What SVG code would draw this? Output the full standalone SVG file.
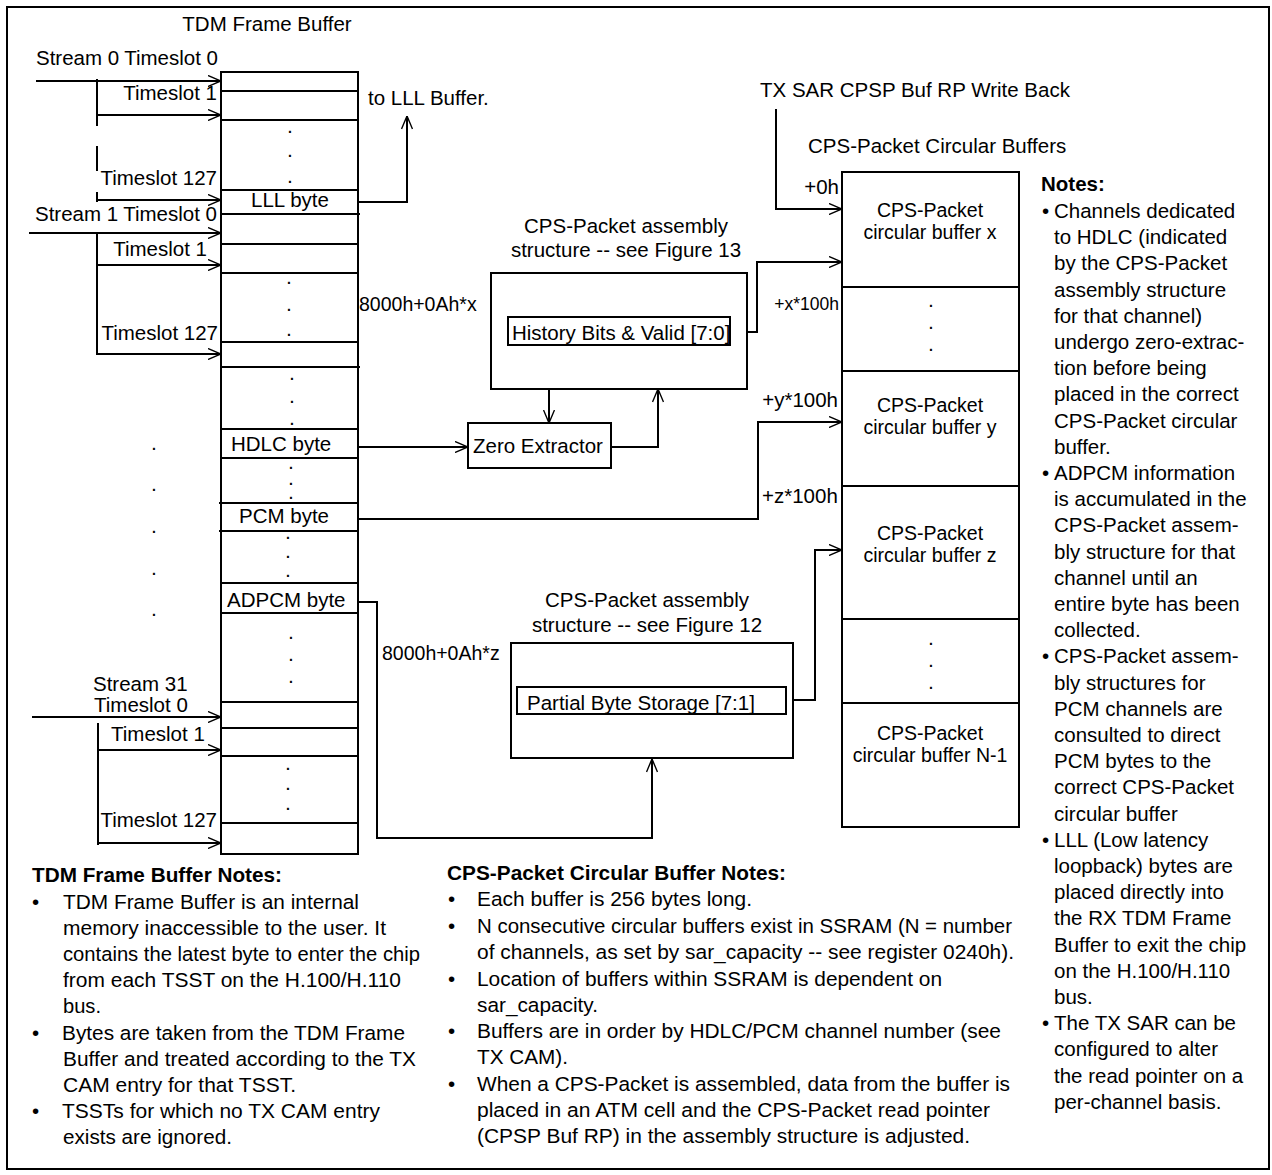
<svg xmlns="http://www.w3.org/2000/svg" width="1272" height="1175" viewBox="0 0 1272 1175">
<style>
.ln{stroke:#000;stroke-width:2;fill:none}
.ar{stroke:#000;stroke-width:2;fill:none;marker-end:url(#ah)}
text{font-family:"Liberation Sans",Arial,sans-serif;font-size:20.5px;fill:#000}
.m{text-anchor:middle}
.e{text-anchor:end}
.b{font-weight:bold}
.s{font-size:17.5px}
.c{font-size:19.5px;text-anchor:middle}
.d{font-size:14px;font-weight:bold;text-anchor:middle}
</style>
<defs>
<marker id="ah" viewBox="0 0 14 12" refX="13.5" refY="6" markerWidth="14" markerHeight="12" markerUnits="userSpaceOnUse" orient="auto">
<path d="M0.5,0.5 L13.5,6 L0.5,11.5" fill="none" stroke="#000" stroke-width="1.4"/>
</marker>
</defs>
<rect x="0" y="0" width="1272" height="1175" fill="#fff"/>
<rect class="ln" x="7" y="7" width="1262" height="1162"/>

<g id="tdm-buffer">
<text class="m" x="267" y="31">TDM Frame Buffer</text>
<rect class="ln" x="221" y="72" width="137" height="782"/>
<path class="ln" d="M221,91H358M221,120H358M221,190H358M221,214H360M221,244H358M221,273H358M221,342H358M221,367H360M221,429H358M221,458H358M219,503H358M219,531H358M221,583H358M221,613H358M221,702H358M221,728H358M221,756H358M221,823H358"/>
<text x="36" y="65">Stream 0</text>
<text class="e" x="218" y="65">Timeslot 0</text>
<text class="e" x="217" y="100">Timeslot 1</text>
<text class="e" x="217" y="185">Timeslot 127</text>
<text class="m" x="290" y="207">LLL byte</text>
<text x="35" y="221">Stream 1</text>
<text class="e" x="217" y="221">Timeslot 0</text>
<text class="e" x="207" y="256">Timeslot 1</text>
<text class="e" x="218" y="340">Timeslot 127</text>
<text x="231" y="451">HDLC byte</text>
<text x="239" y="523">PCM byte</text>
<text x="227" y="607">ADPCM byte</text>
<text x="93" y="691">Stream 31</text>
<text x="94" y="712">Timeslot 0</text>
<text x="111" y="741">Timeslot 1</text>
<text class="e" x="217" y="827">Timeslot 127</text>
<text class="d" x="290" y="133">.</text><text class="d" x="290" y="157">.</text><text class="d" x="290" y="183">.</text>
<text class="d" x="289" y="284">.</text><text class="d" x="289" y="311">.</text><text class="d" x="289" y="336">.</text>
<text class="d" x="292" y="380">.</text><text class="d" x="292" y="403">.</text><text class="d" x="292" y="425">.</text>
<text class="d" x="291" y="469">.</text><text class="d" x="291" y="485">.</text><text class="d" x="291" y="499">.</text>
<text class="d" x="288" y="539">.</text><text class="d" x="288" y="558">.</text><text class="d" x="288" y="577">.</text>
<text class="d" x="291" y="639">.</text><text class="d" x="291" y="661">.</text><text class="d" x="291" y="683">.</text>
<text class="d" x="288" y="770">.</text><text class="d" x="288" y="790">.</text><text class="d" x="288" y="810">.</text>
<text class="d" x="154" y="450">.</text><text class="d" x="154" y="491">.</text><text class="d" x="154" y="533">.</text><text class="d" x="154" y="575">.</text><text class="d" x="154" y="616">.</text>
</g>

<g id="history-struct">
<text class="m" x="626" y="233">CPS-Packet assembly</text>
<text class="m" x="626" y="257">structure -- see Figure 13</text>
<rect class="ln" x="491" y="273" width="256" height="116"/>
<rect class="ln" x="508" y="317" width="222" height="28"/>
<text x="512" y="340">History Bits &amp; Valid [7:0]</text>
<text x="359" y="311" style="font-size:19.5px">8000h+0Ah*x</text>
</g>

<g id="zero-extractor">
<rect class="ln" x="468" y="423" width="143" height="45"/>
<text x="473" y="453">Zero Extractor</text>
</g>

<g id="partial-struct">
<text class="m" x="647" y="607">CPS-Packet assembly</text>
<text class="m" x="647" y="632">structure -- see Figure 12</text>
<rect class="ln" x="511" y="643" width="282" height="115"/>
<rect class="ln" x="517" y="687" width="269" height="27"/>
<text x="527" y="710">Partial Byte Storage [7:1]</text>
<text x="382" y="660" style="font-size:19.5px">8000h+0Ah*z</text>
</g>

<g id="cps-buffers">
<text x="808" y="153">CPS-Packet Circular Buffers</text>
<rect class="ln" x="842" y="172" width="177" height="655"/>
<path class="ln" d="M842,287H1019M842,371H1019M842,486H1019M842,619H1019M842,703H1019"/>
<text class="c" x="930" y="216.5">CPS-Packet</text><text class="c" x="930" y="238.5">circular buffer x</text>
<text class="c" x="930" y="411.5">CPS-Packet</text><text class="c" x="930" y="433.5">circular buffer y</text>
<text class="c" x="930" y="540">CPS-Packet</text><text class="c" x="930" y="562">circular buffer z</text>
<text class="c" x="930" y="740">CPS-Packet</text><text class="c" x="930" y="762">circular buffer N-1</text>
<text class="d" x="931" y="307">.</text><text class="d" x="931" y="329">.</text><text class="d" x="931" y="351">.</text>
<text class="d" x="931" y="645">.</text><text class="d" x="931" y="667">.</text><text class="d" x="931" y="689">.</text>
<text class="e" x="839" y="194">+0h</text>
<text class="e s" x="839" y="310">+x*100h</text>
<text class="e" x="838" y="407">+y*100h</text>
<text x="762" y="503">+z*100h</text>
</g>

<g id="connectors">
<path class="ar" d="M36,81H221"/>
<path class="ln" d="M97,79V126M97,146V171M97,192V202"/>
<path class="ar" d="M97,115H221"/>
<path class="ar" d="M97,200H221"/>
<path class="ar" d="M29,233H221"/>
<path class="ln" d="M97,233V355"/>
<path class="ar" d="M97,265H221"/>
<path class="ar" d="M97,354H221"/>
<path class="ar" d="M32,717H221"/>
<path class="ln" d="M98,723V845"/>
<path class="ar" d="M98,750H221"/>
<path class="ar" d="M98,843H221"/>
<path class="ar" d="M358,202H407V116"/>
<text x="368" y="105">to LLL Buffer.</text>
<path class="ar" d="M358,447H468"/>
<path class="ar" d="M611,447H658V389"/>
<path class="ar" d="M549,389V423"/>
<path class="ar" d="M747,332H757V262H842"/>
<path class="ar" d="M358,519H758V422H842"/>
<path class="ar" d="M358,602H377V838H652V759"/>
<path class="ar" d="M793,700H815V550H842"/>
<path class="ar" d="M776,109V209H842"/>
<text x="760" y="97">TX SAR CPSP Buf RP Write Back</text>
</g>

<g id="notes-right">
<text class="b" x="1041" y="191">Notes:</text>
<text x="1042" y="218">•</text><text x="1054" y="218">Channels dedicated</text>
<text x="1054" y="244.2">to HDLC (indicated</text>
<text x="1054" y="270.4">by the CPS-Packet</text>
<text x="1054" y="296.6">assembly structure</text>
<text x="1054" y="322.8">for that channel)</text>
<text x="1054" y="349">undergo zero-extrac-</text>
<text x="1054" y="375.2">tion before being</text>
<text x="1054" y="401.4">placed in the correct</text>
<text x="1054" y="427.6">CPS-Packet circular</text>
<text x="1054" y="453.8">buffer.</text>
<text x="1042" y="480">•</text><text x="1054" y="480">ADPCM information</text>
<text x="1054" y="506.2">is accumulated in the</text>
<text x="1054" y="532.4">CPS-Packet assem-</text>
<text x="1054" y="558.6">bly structure for that</text>
<text x="1054" y="584.8">channel until an</text>
<text x="1054" y="611">entire byte has been</text>
<text x="1054" y="637.2">collected.</text>
<text x="1042" y="663.4">•</text><text x="1054" y="663.4">CPS-Packet assem-</text>
<text x="1054" y="689.6">bly structures for</text>
<text x="1054" y="715.8">PCM channels are</text>
<text x="1054" y="742">consulted to direct</text>
<text x="1054" y="768.2">PCM bytes to the</text>
<text x="1054" y="794.4">correct CPS-Packet</text>
<text x="1054" y="820.6">circular buffer</text>
<text x="1042" y="846.8">•</text><text x="1054" y="846.8">LLL (Low latency</text>
<text x="1054" y="873">loopback) bytes are</text>
<text x="1054" y="899.2">placed directly into</text>
<text x="1054" y="925.4">the RX TDM Frame</text>
<text x="1054" y="951.6">Buffer to exit the chip</text>
<text x="1054" y="977.8">on the H.100/H.110</text>
<text x="1054" y="1004">bus.</text>
<text x="1042" y="1030.2">•</text><text x="1054" y="1030.2">The TX SAR can be</text>
<text x="1054" y="1056.4">configured to alter</text>
<text x="1054" y="1082.6">the read pointer on a</text>
<text x="1054" y="1108.8">per-channel basis.</text>
</g>

<g id="notes-tdm">
<text class="b" x="32" y="882" textLength="250" lengthAdjust="spacingAndGlyphs">TDM Frame Buffer Notes:</text>
<text x="32" y="909">•</text><text x="63" y="909" textLength="296" lengthAdjust="spacingAndGlyphs">TDM Frame Buffer is an internal</text>
<text x="63" y="935" textLength="323" lengthAdjust="spacingAndGlyphs">memory inaccessible to the user. It</text>
<text x="63" y="961" textLength="357" lengthAdjust="spacingAndGlyphs">contains the latest byte to enter the chip</text>
<text x="63" y="987" textLength="338" lengthAdjust="spacingAndGlyphs">from each TSST on the H.100/H.110</text>
<text x="63" y="1013" textLength="38" lengthAdjust="spacingAndGlyphs">bus.</text>
<text x="32" y="1040">•</text><text x="62" y="1040" textLength="343" lengthAdjust="spacingAndGlyphs">Bytes are taken from the TDM Frame</text>
<text x="63" y="1066" textLength="353" lengthAdjust="spacingAndGlyphs">Buffer and treated according to the TX</text>
<text x="63" y="1092" textLength="233" lengthAdjust="spacingAndGlyphs">CAM entry for that TSST.</text>
<text x="32" y="1118">•</text><text x="62" y="1118" textLength="318" lengthAdjust="spacingAndGlyphs">TSSTs for which no TX CAM entry</text>
<text x="63" y="1144" textLength="169" lengthAdjust="spacingAndGlyphs">exists are ignored.</text>
</g>

<g id="notes-cps">
<text class="b" x="447" y="880" textLength="339" lengthAdjust="spacingAndGlyphs">CPS-Packet Circular Buffer Notes:</text>
<text x="448" y="906">•</text><text x="477" y="906" textLength="275" lengthAdjust="spacingAndGlyphs">Each buffer is 256 bytes long.</text>
<text x="448" y="933">•</text><text x="477" y="933" textLength="535" lengthAdjust="spacingAndGlyphs">N consecutive circular buffers exist in SSRAM (N = number</text>
<text x="477" y="959" textLength="537" lengthAdjust="spacingAndGlyphs">of channels, as set by sar_capacity -- see register 0240h).</text>
<text x="448" y="986">•</text><text x="477" y="986" textLength="465" lengthAdjust="spacingAndGlyphs">Location of buffers within SSRAM is dependent on</text>
<text x="477" y="1012" textLength="121" lengthAdjust="spacingAndGlyphs">sar_capacity.</text>
<text x="448" y="1038">•</text><text x="477" y="1038" textLength="524" lengthAdjust="spacingAndGlyphs">Buffers are in order by HDLC/PCM channel number (see</text>
<text x="477" y="1064" textLength="91" lengthAdjust="spacingAndGlyphs">TX CAM).</text>
<text x="448" y="1091">•</text><text x="477" y="1091" textLength="533" lengthAdjust="spacingAndGlyphs">When a CPS-Packet is assembled, data from the buffer is</text>
<text x="477" y="1117" textLength="513" lengthAdjust="spacingAndGlyphs">placed in an ATM cell and the CPS-Packet read pointer</text>
<text x="477" y="1143" textLength="493" lengthAdjust="spacingAndGlyphs">(CPSP Buf RP) in the assembly structure is adjusted.</text>
</g>
</svg>
